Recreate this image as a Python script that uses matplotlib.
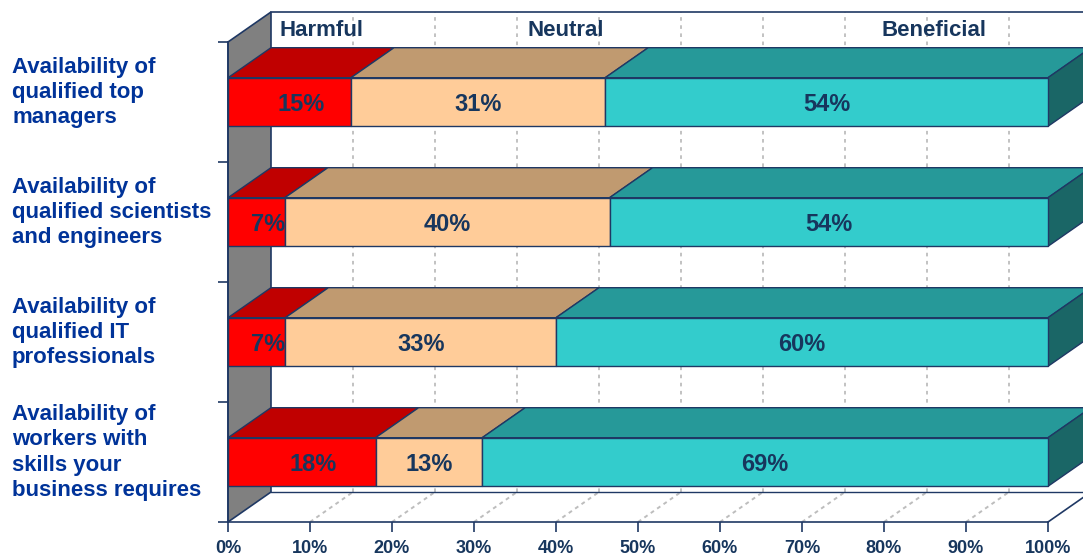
import matplotlib
matplotlib.use("Agg")
import matplotlib.pyplot as plt
from matplotlib.patches import Polygon, Rectangle
from matplotlib.transforms import blended_transform_factory

plt.rcParams['font.family'] = ['Liberation Sans', 'DejaVu Sans']

# ---------------- data ----------------
categories = [
    "Availability of\nqualified top\nmanagers",
    "Availability of\nqualified scientists\nand engineers",
    "Availability of\nqualified IT\nprofessionals",
    "Availability of\nworkers with\nskills your\nbusiness requires",
]
series_names = ["Harmful", "Neutral", "Beneficial"]
harmful = [15, 7, 7, 18]
neutral = [31, 40, 33, 13]
beneficial = [54, 54, 60, 69]
x_ticks = list(range(0, 101, 10))
x_tick_labels = [f"{v}%" for v in x_ticks]

# ---------------- style ----------------
front_colors = ["#FF0000", "#FFCC99", "#33CCCC"]
top_colors = ["#C00000", "#C09A70", "#269999"]
side_color = "#1A6666"
edge = "#1F3864"
navy = "#17365D"
cat_color = "#003399"
grid_c = "#BDBDBD"

W, H = 1083, 556
fig = plt.figure(figsize=(W / 100, H / 100), dpi=100)
ax = fig.add_axes([228 / W, (H - 522) / H, 820 / W, 480 / H])
n = len(categories)
ax.set_xlim(0, 100)
ax.set_ylim(0, n)

DX = 43 / 8.2      # depth offset in x (percent units)
DY = 30 / 120      # depth offset in y (category units)
BAR_H = 0.405

def poly(pts, fc, ec="none", lw=1.0, z=1):
    p = Polygon(pts, closed=True, facecolor=fc, edgecolor=ec, linewidth=lw,
                zorder=z, clip_on=False, joinstyle="miter")
    ax.add_patch(p)

# back wall
poly([(DX, DY), (100 + DX, DY), (100 + DX, n + DY), (DX, n + DY)], "white", z=0.5)
# floor
poly([(0, 0), (100, 0), (100 + DX, DY), (DX, DY)], "white", z=0.5)
# gridlines on back wall and floor
for xv in x_ticks[1:]:
    ax.plot([xv + DX, xv + DX], [DY, n + DY], color=grid_c, lw=1.3,
            ls=(0, (2, 2.5)), zorder=0.8, clip_on=False)
    if xv < 100:
        ax.plot([xv, xv + DX], [0, DY], color=grid_c, lw=1.4,
                ls=(0, (2, 2)), zorder=0.8, clip_on=False)
# wall edges
ax.plot([DX, 100 + DX + 5], [n + DY, n + DY], color=edge, lw=1.2, zorder=0.9, clip_on=False)
ax.plot([DX, 100 + DX], [DY, DY], color=edge, lw=1.0, zorder=0.9, clip_on=False)
ax.plot([100, 100 + DX], [0, DY], color=edge, lw=1.2, zorder=0.9, clip_on=False)
# left wall
poly([(0, 0), (DX, DY), (DX, n + DY), (0, n)], "#808080", ec=edge, lw=1.2, z=1)

# ---------------- bars ----------------
series = [harmful, neutral, beneficial]
for i in range(n):
    vals = [s[i] for s in series]
    tot = sum(vals)
    shares = [v / tot * 100 for v in vals]
    yc = n - i - 0.5
    y0, y1 = yc - BAR_H / 2, yc + BAR_H / 2
    left = 0
    for j, sh in enumerate(shares):
        x0, x1 = left, left + sh
        poly([(x0, y1), (x1, y1), (x1 + DX, y1 + DY), (x0 + DX, y1 + DY)],
             top_colors[j], ec=edge, lw=1.0, z=3)
        ax.add_patch(Rectangle((x0, y0), sh, BAR_H, facecolor=front_colors[j],
                               edgecolor=edge, linewidth=1.0, zorder=3.2,
                               clip_on=False))
        if j == len(shares) - 1:
            poly([(x1, y0), (x1, y1), (x1 + DX, y1 + DY), (x1 + DX, y0 + DY)],
                 side_color, ec=edge, lw=1.0, z=3)
        lx = (x0 + x1) / 2 + (1.4 if j == 0 else 0)
        ax.text(lx, yc - 0.02, f"{vals[j]}%", ha="center", va="center",
                fontsize=17, fontweight="bold", color=navy, zorder=5)
        left = x1

# series name labels on the back wall
name_x = [11.4, 41.2, 86.1]
for nm, xv in zip(series_names, name_x):
    ax.text(xv, n + 0.1, nm, ha="center", va="center", fontsize=16,
            fontweight="bold", color=navy, zorder=5, clip_on=False)

# category labels
tr = blended_transform_factory(fig.transFigure, ax.transData)
for i, c in enumerate(categories):
    ax.text(12 / W, n - i - 0.5 + 0.08, c, transform=tr, ha="left", va="center",
            fontsize=16, fontweight="bold", color=cat_color, linespacing=1.27)

# axes
for s in ["top", "right"]:
    ax.spines[s].set_visible(False)
for s in ["left", "bottom"]:
    ax.spines[s].set_color(edge)
    ax.spines[s].set_linewidth(1.2)
    ax.spines[s].set_zorder(4)
ax.set_yticks(range(n + 1))
ax.set_yticklabels([])
ax.set_xticks(x_ticks)
ax.set_xticklabels(x_tick_labels, fontsize=13, fontweight="bold", color=navy)
ax.tick_params(axis="both", length=7, width=1.2, color=edge, direction="out")
ax.tick_params(axis="x", pad=6)
ax.set_facecolor("none")

fig.savefig("out.png", dpi=100)
